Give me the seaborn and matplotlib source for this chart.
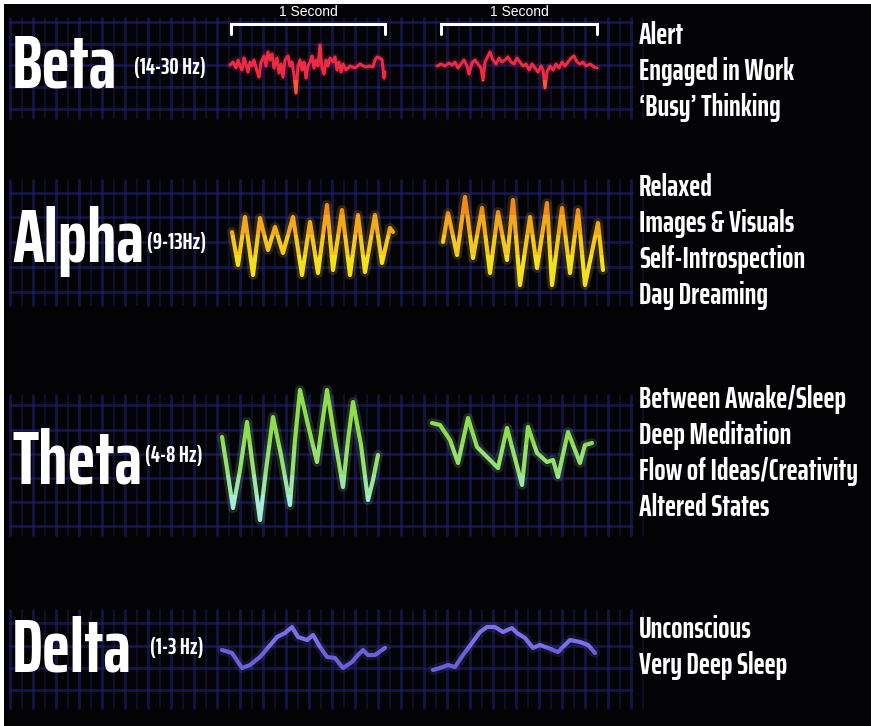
import numpy as np
import pandas as pd
import matplotlib
matplotlib.use("Agg")
import matplotlib.pyplot as plt
from matplotlib.patches import Rectangle
import seaborn as sns

# ---------------- data ----------------
band_names = ["Beta", "Alpha", "Theta", "Delta"]
band_freqs = ["(14-30 Hz)", "(9-13Hz)", "(4-8 Hz)", "(1-3 Hz)"]
band_notes = [
    ["Alert", "Engaged in Work", "\u2018Busy\u2019 Thinking"],
    ["Relaxed", "Images & Visuals", "Self-Introspection", "Day Dreaming"],
    ["Between Awake/Sleep", "Deep Meditation", "Flow of Ideas/Creativity", "Altered States"],
    ["Unconscious", "Very Deep Sleep"],
]
second_label = "1 Second"

beta1_t = [230,233,236,238,240,242,244,246,248,250,252,254,257,259,261,264,266,268,270,272,274,277,279,281,283,285,288,290,292,294,296,298,300,302,304,306,308,310,312,314,316,318,320,322,324,326,328,330,333,335,337,339,341,343,346,350,355,360,365,369,373,375,377,380,382,384,385]
beta1_v = [65,62,68,60,66,70,58,64,72,62,66,60,71,77,62,56,66,52,60,54,68,58,73,64,77,60,56,66,62,75,93,66,60,70,62,78,66,62,56,68,60,66,45,68,74,60,66,58,62,57,70,62,72,64,70,66,68,64,67,66,67,60,57,58,60,78,72]
beta2_t = [437,441,445,449,452,455,458,461,464,467,469,472,475,478,481,483,485,488,490,493,496,499,502,505,508,511,514,517,520,523,526,529,532,535,538,541,543,545,547,550,553,556,559,562,565,568,571,574,577,580,583,586,590,594,597]
beta2_v = [66,64,66,63,65,62,68,64,60,66,74,63,60,64,68,80,62,56,52,60,64,58,62,60,57,62,64,58,62,66,64,70,64,68,72,66,70,88,72,66,70,64,68,62,66,62,58,56,62,64,62,66,64,67,68]

alpha1_t = [232,238,245,253,260,268,275,283,293,302,310,318,327,333,342,350,358,365,375,382,390,393]
alpha1_v = [232,265,217,275,218,250,227,253,217,275,222,273,205,270,210,275,215,272,215,263,228,232]
alpha2_t = [443,448,457,465,473,482,490,498,507,513,520,530,537,547,552,562,570,578,585,598,603]
alpha2_v = [242,213,255,197,258,208,273,212,260,200,285,217,268,203,285,208,273,210,285,223,270]

theta1_t = [222,226,233,240,247,253,260,266,273,281,290,295,300,308,317,322,327,335,343,348,353,361,368,373,378]
theta1_v = [437,462,508,470,422,468,520,470,417,455,505,440,390,425,462,425,390,440,487,440,402,445,500,480,455]
theta2_t = [432,440,450,458,468,477,487,498,507,522,528,537,547,553,558,568,580,585,592]
theta2_v = [423,425,440,463,418,447,457,468,428,485,427,453,462,460,477,432,463,445,443]

delta1_t = [222,232,242,250,260,272,277,285,292,298,307,313,320,327,335,343,352,358,363,368,375,385]
delta1_v = [650,653,668,665,657,643,637,633,627,637,640,635,647,657,658,668,662,655,650,655,655,648]
delta2_t = [433,440,448,455,463,472,480,487,495,503,512,517,525,533,540,548,558,563,570,580,588,595]
delta2_v = [670,668,665,667,655,643,632,627,627,632,628,633,638,648,645,648,652,647,640,642,645,653]

# ---------------- layout / style ----------------
W, H = 871, 726
BG = "#030305"
GRID_MAJOR = "#22227a"
GRID_MINOR = "#13133a"
COND = ["Saira ExtraCondensed", "PT Sans Narrow", "DejaVu Sans"]

sns.set_theme(style="dark")
plt.rcParams["font.family"] = COND

fig = plt.figure(figsize=(W / 100, H / 100), dpi=100, facecolor="white")
ax = fig.add_axes([4 / W, 0, 1 - 4 / W, 1 - 4 / H])
ax.set_facecolor(BG)
ax.set_xlim(4, W)
ax.set_ylim(H, 4)
ax.axis("off")
ax.add_patch(Rectangle((0, 0), W, H, color=BG, zorder=0))

# grid panels: (y_top, y_bottom, horizontal line rows)
panels = [
    (18, 118, [22, 44, 65, 87, 109]),
    (180, 305, [193, 217, 242, 267, 292]),
    (395, 535, [405, 430, 454, 478, 502, 526]),
    (610, 708, [623, 646, 668, 690]),
]
gx0, gx1 = 10, 632
for (yt, yb, rows) in panels:
    xs = np.arange(gx0, gx1, 23.0)
    for x in xs:
        ax.plot([x, x], [yt, yb], color=GRID_MAJOR, lw=2.0, alpha=0.55, zorder=1)
        ax.plot([x + 11.5, x + 11.5], [yt, yb], color=GRID_MINOR, lw=1.5, alpha=0.7, zorder=1)
    for r in rows:
        ax.plot([gx0, gx1], [r, r], color=GRID_MAJOR, lw=2.0, alpha=0.55, zorder=1)


def wave(t, v, colors, edges, lw=3.0):
    df = pd.DataFrame({"t": t, "v": v})
    # glow
    sns.lineplot(data=df, x="t", y="v", ax=ax, sort=False, estimator=None,
                 color=colors[len(colors) // 2], lw=lw * 2.4, alpha=0.16, zorder=2)
    for i, c in enumerate(colors):
        sns.lineplot(data=df, x="t", y="v", ax=ax, sort=False, estimator=None,
                     color=c, lw=lw, zorder=3)
        ln = ax.lines[-1]
        ln.set_solid_joinstyle("round")
        ln.set_solid_capstyle("round")
        rect = Rectangle((0, edges[i]), W, edges[i + 1] - edges[i], transform=ax.transData)
        ln.set_clip_path(rect)


red = ["#f0304a", "#ee2a45", "#f05a3a"]
wave(beta1_t, beta1_v, red, [0, 50, 80, 120], lw=2.2)
wave(beta2_t, beta2_v, red, [0, 50, 80, 120], lw=2.2)
amber = ["#f08a1a", "#f2a81c", "#f4c81c", "#f3e01e"]
wave(alpha1_t, alpha1_v, amber, [150, 215, 235, 255, 320])
wave(alpha2_t, alpha2_v, amber, [150, 215, 235, 255, 320])
green = ["#8fdc4e", "#96e070", "#9ee6a8", "#a8ecd8"]
wave(theta1_t, theta1_v, green, [370, 445, 475, 495, 540])
wave(theta2_t, theta2_v, green, [370, 445, 475, 495, 540])
blue = ["#7a70e8", "#6a60d8"]
wave(delta1_t, delta1_v, blue, [600, 648, 720])
wave(delta2_t, delta2_v, blue, [600, 648, 720])

# band titles
title_y = [88, 262, 483, 672]
freq_y = [68, 243, 456, 648]
freq_x = [134, 147, 145, 150]
for name, fr, ty, fy, fx in zip(band_names, band_freqs, title_y, freq_y, freq_x):
    ax.text(12, ty, name, color="white", fontsize=54, fontweight="bold",
            ha="left", va="baseline", zorder=5)
    ax.text(fx, fy, fr, color="white", fontsize=16.5, fontweight="bold",
            ha="left", va="center", zorder=5)

# descriptions
note_y0 = [35, 187, 399, 629]
for notes, y0 in zip(band_notes, note_y0):
    for k, s in enumerate(notes):
        ax.text(639, y0 + k * 36, s, color="white", fontsize=21.5, fontweight="bold",
                ha="left", va="center", zorder=5)

# 1-second brackets
for (bx0, bx1) in [(231, 385), (441, 597)]:
    ax.plot([bx0, bx0, bx1, bx1], [34, 24, 24, 34], color="white", lw=2.2,
            solid_joinstyle="miter", zorder=5)
    ax.text((bx0 + bx1) / 2, 12, second_label, color="white", fontsize=10,
            family=["Liberation Sans", "DejaVu Sans"], ha="center", va="center", zorder=5)

fig.savefig("out.png", dpi=100, facecolor=fig.get_facecolor())
